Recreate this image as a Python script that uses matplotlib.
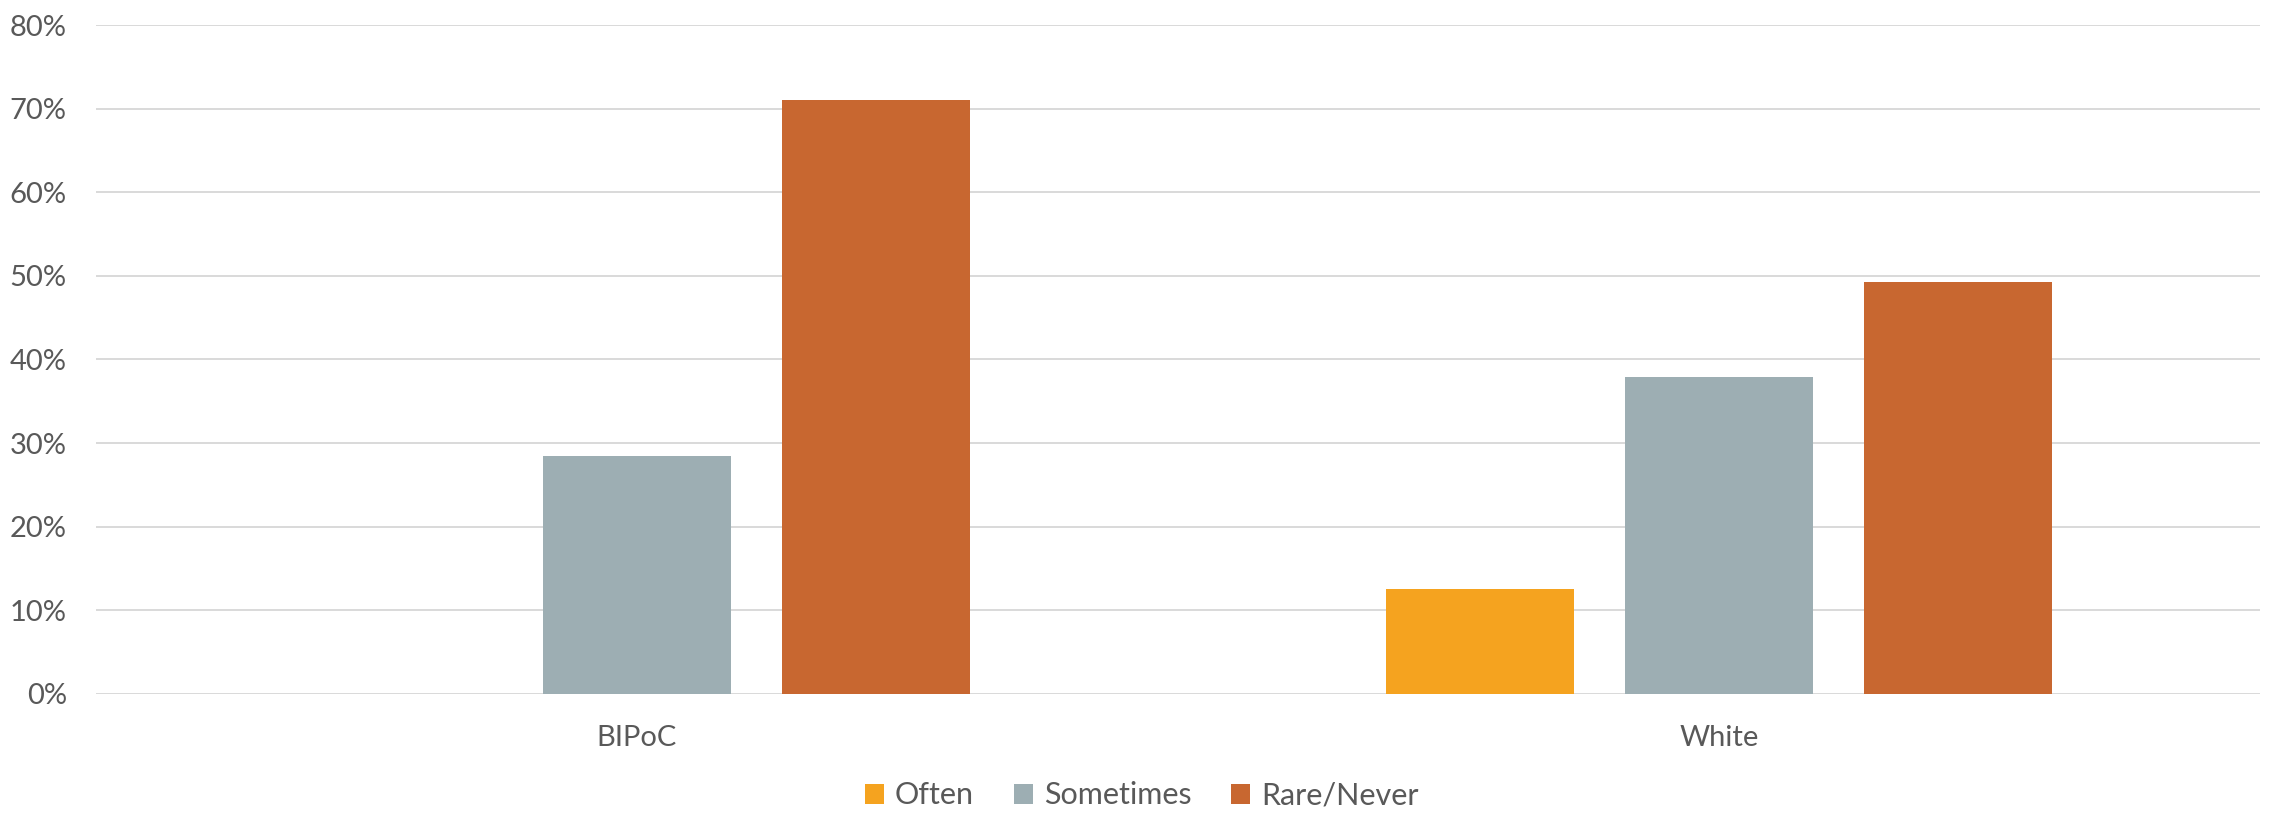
import numpy as np
import matplotlib
matplotlib.use("Agg")
import matplotlib.pyplot as plt
from matplotlib.ticker import PercentFormatter

# ── Data ──────────────────────────────────────────────────────────────
groups = ["BIPoC", "White"]
series = ["Often", "Sometimes", "Rare/Never"]
often = [0.0, 12.6]
sometimes = [28.5, 37.9]
rare_never = [71.0, 49.3]
y_ticks = [0, 10, 20, 30, 40, 50, 60, 70, 80]

colors = ["#F5A31F", "#9DAEB3", "#C86730"]
text_color = "#595959"

plt.rcParams["font.family"] = ["Lato", "DejaVu Sans"]

fig = plt.figure(figsize=(22.7, 8.15), dpi=100)
ax = fig.add_axes([0.0423, 0.1485, 0.9533, 0.8208])

x = np.arange(len(groups))
width = 0.174
offset = 0.221

for i, (name, vals) in enumerate(zip(series, [often, sometimes, rare_never])):
    ax.bar(x + (i - 1) * offset, vals, width=width, color=colors[i],
           label=name, zorder=3)

ax.set_xlim(-0.5, len(groups) - 0.5)
ax.set_ylim(0, 80)
ax.set_yticks(y_ticks)
ax.yaxis.set_major_formatter(PercentFormatter(decimals=0))
ax.set_xticks(x)
ax.set_xticklabels(groups)

ax.grid(axis="y", color="#D9D9D9", linewidth=1.4, zorder=0)
ax.set_axisbelow(True)
for s in ax.spines.values():
    s.set_visible(False)
ax.tick_params(axis="both", length=0, labelsize=21, labelcolor=text_color)
ax.tick_params(axis="y", pad=21)
ax.tick_params(axis="x", pad=22)

fig.legend(loc="center", bbox_to_anchor=(0.503, 0.024), ncol=3, frameon=False,
           fontsize=22, handlelength=0.62, handleheight=0.62, handletextpad=0.36,
           columnspacing=1.3, labelcolor=text_color)

fig.savefig("out.png", dpi=100)
